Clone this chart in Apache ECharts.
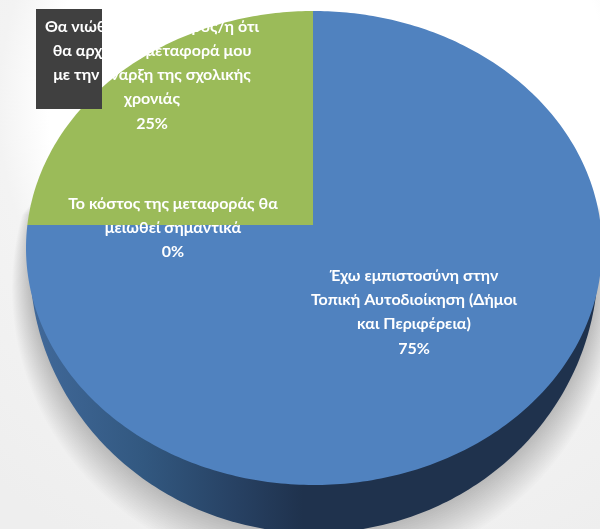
<!DOCTYPE html>
<html lang="el">
<head>
<meta charset="utf-8">
<style>html,body{margin:0;padding:0;background:#fff}#chart{width:600px;height:529px}</style>
<script src="https://cdn.jsdelivr.net/npm/echarts@6/dist/echarts.min.js"></script>
</head>
<body>
<div id="chart"></div>
<script>
// Survey answers and their shares, in percent
const answers = [
  'Έχω εμπιστοσύνη στην\nΤοπική Αυτοδιοίκηση (Δήμοι\nκαι Περιφέρεια)',
  'Θα νιώθω πιο σίγουρος/η ότι\nθα αρχίσει η μεταφορά μου\nμε την έναρξη της σχολικής\nχρονιάς',
  'Το κόστος της μεταφοράς θα\nμειωθεί σημαντικά'
];
const shares = [75, 25, 0];
const sliceColors = ['#5082bf', '#9bbb59', '#8064a2'];
const labelAnchors = [[414, 312], [152, 75], [173, 228]];

// Perspective disc: the rim is an ellipse, the hub sits above its middle
const hub = { x: 313, y: 225 };
const rim = { cx: 314, cy: 248, rx: 288, ry: 237 };
const wall = { cx: 314, cy: 263, rx: 284, ry: 270 };
const SHADOW_RINGS = 18;
const SHADOW_SPREAD = 2;
const STEP = Math.PI / 180;
const total = shares.reduce((a, b) => a + b, 0);

// Where a ray leaving the hub at a clockwise angle from twelve o'clock meets the rim
function rimPoint(angle) {
  const ux = Math.sin(angle) / rim.rx, uy = -Math.cos(angle) / rim.ry;
  const px = (hub.x - rim.cx) / rim.rx, py = (hub.y - rim.cy) / rim.ry;
  const a = ux * ux + uy * uy, b = 2 * (px * ux + py * uy), c = px * px + py * py - 1;
  const t = (-b + Math.sqrt(b * b - 4 * a * c)) / (2 * a);
  return [hub.x + t * Math.sin(angle), hub.y - t * Math.cos(angle)];
}

function slicePoints(from, to) {
  const pts = [[hub.x, hub.y]];
  for (let a = from; a < to; a += STEP) pts.push(rimPoint(a));
  pts.push(rimPoint(to));
  return pts;
}

// Lower part of an ellipse; "grow" widens it and slides it down for the shadow rings
function wallPoints(grow) {
  const pts = [];
  const reach = 105 * STEP;
  const rx = wall.rx + grow * 0.5, ry = wall.ry + grow * 0.5, cy = wall.cy + grow * 0.7;
  for (let a = -reach; a <= reach + 1e-6; a += STEP) {
    pts.push([wall.cx + rx * Math.sin(a), cy + ry * Math.cos(a)]);
  }
  return pts;
}

const option = {
  animation: false,
  backgroundColor: {
    type: 'radial', x: 0.55, y: 0.2, r: 0.95,
    colorStops: [
      { offset: 0, color: '#ffffff' },
      { offset: 0.56, color: '#ffffff' },
      { offset: 0.66, color: '#f3f3f3' },
      { offset: 1, color: '#eeeeee' }
    ]
  },
  series: [
    {
      // Soft drop shadow under the disc, built from faint overlapping rings
      type: 'custom', coordinateSystem: 'none', z: 1, silent: true,
      data: [0],
      renderItem() {
        const children = [];
        for (let k = SHADOW_RINGS; k >= 1; k--) {
          children.push({
            type: 'polygon',
            shape: { points: wallPoints(k * SHADOW_SPREAD) },
            style: { fill: 'rgba(0,0,0,0.0118)' }
          });
        }
        return { type: 'group', children };
      }
    },
    {
      // Side wall of the disc
      type: 'custom', coordinateSystem: 'none', z: 2, silent: true,
      data: [0],
      renderItem() {
        return {
          type: 'polygon',
          shape: { points: wallPoints(0) },
          style: {
            fill: {
              type: 'linear', x: 0, y: 0, x2: 1, y2: 0,
              colorStops: [
                { offset: 0, color: '#41699a' },
                { offset: 0.2, color: '#325880' },
                { offset: 0.38, color: '#263f60' },
                { offset: 0.48, color: '#1f324d' },
                { offset: 1, color: '#1f324d' }
              ]
            }
          }
        };
      }
    },
    {
      // Top face: slices swept clockwise from twelve o'clock
      type: 'custom', coordinateSystem: 'none', z: 3, silent: true,
      data: shares,
      renderItem(params, api) {
        const i = params.dataIndex;
        const before = shares.slice(0, i).reduce((a, b) => a + b, 0);
        const from = before / total * 2 * Math.PI;
        const to = (before + api.value(0)) / total * 2 * Math.PI;
        if (to <= from) return null;
        return {
          type: 'polygon',
          shape: { points: slicePoints(from, to) },
          style: { fill: sliceColors[i] }
        };
      }
    },
    {
      // Data labels, with the dark hover box sitting behind the second one
      type: 'custom', coordinateSystem: 'none', z: 4, silent: true,
      data: shares,
      renderItem(params, api) {
        const i = params.dataIndex;
        const children = [];
        if (i === 1) {
          children.push({
            type: 'rect',
            shape: { x: 36, y: 9, width: 66, height: 100 },
            style: { fill: '#404040' }
          });
        }
        children.push({
          type: 'text',
          style: {
            x: labelAnchors[i][0], y: labelAnchors[i][1],
            text: answers[i] + '\n' + api.value(0) + '%',
            fill: '#ffffff',
            font: '700 16px Lato, "Noto Sans", sans-serif',
            lineHeight: 24.3,
            align: 'center',
            verticalAlign: 'middle'
          }
        });
        return { type: 'group', children };
      }
    }
  ]
};

echarts.init(document.getElementById('chart'), null, { renderer: 'canvas' }).setOption(option);
</script>
</body>
</html>
